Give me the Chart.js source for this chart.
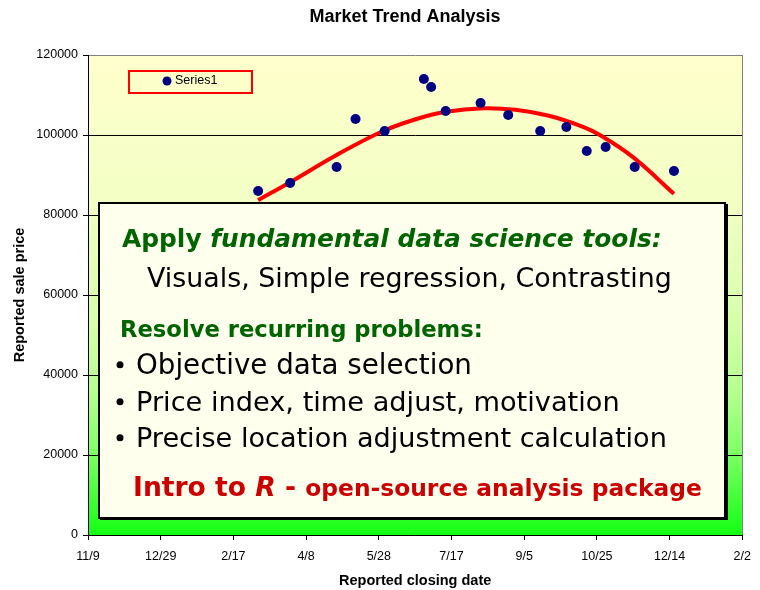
<!DOCTYPE html>
<html>
<head>
<meta charset="utf-8">
<script src="https://cdn.jsdelivr.net/npm/chart.js@4.4.1/dist/chart.umd.min.js"></script>
<style>
  body { margin: 0; background: #fff; }
  canvas { display: block; }
</style>
</head>
<body>
<canvas id="my-chart" width="760" height="590"></canvas>
<script>
// data (x = days after 11/9)
var saleDays = [117, 139, 171, 184, 204, 231, 236, 246, 270, 289, 311, 329, 343, 356, 376, 403];
var salePrices = [86000, 88000, 92000, 104000, 101000, 114000, 112000, 106000, 108000, 105000, 101000, 102000, 96000, 97000, 92000, 91000];
var trendDays = [117, 139, 171, 203, 226, 246, 272, 294, 317, 340, 352, 375, 403];
var trendPrices = [83700, 88200, 95000, 101000, 104000, 105800, 106700, 106300, 104800, 102100, 100000, 94400, 85300];
var xTickLabels = ['11/9', '12/29', '2/17', '4/8', '5/28', '7/17', '9/5', '10/25', '12/14', '2/2'];

var fam = '"Liberation Sans", Arial, sans-serif';
var noteFam = '"Comic Sans MS", "DejaVu Sans", sans-serif';
var green = '#006400';
var red = '#CC0000';

// text box lines
var noteLines = [
	{x: 122, base: 247, w: 540, parts: [{t: 'Apply ', f: 'bold', c: green}, {t: 'fundamental data science tools:', f: 'italic bold', c: green}]},
	{x: 147, base: 287, w: 525, parts: [{t: 'Visuals, Simple regression, Contrasting', f: '', c: '#000'}]},
	{x: 120, base: 337, w: 363, parts: [{t: 'Resolve recurring problems:', f: 'bold', c: green}]},
	{x: 136, base: 374, w: 336, bullet: true, parts: [{t: 'Objective data selection', f: '', c: '#000'}]},
	{x: 136, base: 411, w: 484, bullet: true, parts: [{t: 'Price index, time adjust, motivation', f: '', c: '#000'}]},
	{x: 136, base: 447, w: 531, bullet: true, parts: [{t: 'Precise location adjustment calculation', f: '', c: '#000'}]},
	{x: 133, base: 496, w: 569, parts: [{t: 'Intro to ', f: 'bold', c: red}, {t: 'R', f: 'italic bold', c: red}, {t: ' - ', f: 'bold', c: red}, {t: 'open-source analysis package', f: 'bold', c: red, s: 0.88}]}
];

var bgPlugin = {
	id: 'plotBg',
	beforeDraw: function(chart) {
		var a = chart.chartArea, c = chart.ctx;
		var g = c.createLinearGradient(0, a.top, 0, a.bottom);
		g.addColorStop(0, '#FFFFCC');
		g.addColorStop(0.3, '#F3FFC5');
		g.addColorStop(0.55, '#D8FFAC');
		g.addColorStop(0.7, '#B6FF92');
		g.addColorStop(0.82, '#84FF6A');
		g.addColorStop(0.92, '#46FF3A');
		g.addColorStop(1, '#14FF14');
		c.save();
		c.fillStyle = g;
		c.fillRect(a.left, a.top, a.right - a.left, a.bottom - a.top);
		c.restore();
	}
};

var overlayPlugin = {
	id: 'overlay',
	afterDraw: function(chart) {
		var a = chart.chartArea, c = chart.ctx;
		c.save();
		// right border of plot
		c.strokeStyle = '#808080';
		c.lineWidth = 1;
		c.beginPath();
		c.moveTo(Math.round(a.right) + 0.5, a.top);
		c.lineTo(Math.round(a.right) + 0.5, a.bottom);
		c.stroke();

		// title
		c.fillStyle = '#000';
		c.font = 'bold 18px ' + fam;
		c.textAlign = 'center';
		c.textBaseline = 'middle';
		c.fillText('Market Trend Analysis', 405, 17);

		// legend
		var ds = chart.data.datasets[0];
		c.strokeStyle = '#FF0000';
		c.lineWidth = 2;
		c.strokeRect(129, 71, 123, 22);
		c.fillStyle = ds.backgroundColor;
		c.beginPath();
		c.arc(167, 81, 4.5, 0, Math.PI * 2);
		c.fill();
		c.fillStyle = '#000';
		c.font = '12.5px ' + fam;
		c.textAlign = 'left';
		c.fillText(ds.label, 175, 81);

		// note box with shadow
		c.fillStyle = '#000';
		c.fillRect(100, 204, 628, 316);
		c.fillStyle = '#FFFFEE';
		c.fillRect(99, 203, 626, 315);
		c.strokeStyle = '#000';
		c.lineWidth = 2;
		c.strokeRect(99, 203, 626, 315);

		c.textBaseline = 'alphabetic';
		noteLines.forEach(function(line) {
			var base = 24, total = 0;
			line.parts.forEach(function(p) {
				c.font = p.f + ' ' + (base * (p.s || 1)) + 'px ' + noteFam;
				total += c.measureText(p.t).width;
			});
			var k = line.w / total;
			var x = line.x;
			line.parts.forEach(function(p) {
				c.font = p.f + ' ' + (base * k * (p.s || 1)) + 'px ' + noteFam;
				c.fillStyle = p.c;
				c.fillText(p.t, x, line.base);
				x += c.measureText(p.t).width;
			});
			if (line.bullet) {
				c.fillStyle = '#000';
				c.beginPath();
				c.arc(120, line.base - 9.3, 3.5, 0, Math.PI * 2);
				c.fill();
			}
		});
		c.restore();
	}
};

var ctx = document.getElementById('my-chart');
var myChart = new Chart(ctx, {
	type: 'scatter',
	data: {
		datasets: [{
			label: 'Series1',
			data: saleDays.map(function(d, i) { return {x: d, y: salePrices[i]}; }),
			backgroundColor: '#000080',
			borderColor: '#000080',
			pointRadius: 5,
			pointBorderWidth: 0
		}, {
			label: 'Trend',
			data: trendDays.map(function(d, i) { return {x: d, y: trendPrices[i]}; }),
			showLine: true,
			borderColor: '#FF0000',
			borderWidth: 4,
			pointRadius: 0,
			tension: 0.4,
			fill: false
		}]
	},
	options: {
		responsive: false,
		animation: false,
		layout: {padding: {top: 55, right: 17, bottom: 0, left: 0}},
		plugins: {legend: {display: false}, tooltip: {enabled: false}},
		scales: {
			x: {
				type: 'linear', min: 0, max: 450,
				ticks: {
					stepSize: 50, autoSkip: false, maxRotation: 0, padding: 9,
					color: '#000', font: {family: fam, size: 12.5},
					callback: function(v) { return xTickLabels[Math.round(v / 50)]; }
				},
				grid: {drawOnChartArea: false, color: '#000', tickLength: 5},
				border: {color: '#000', width: 1},
				title: {display: true, text: 'Reported closing date', color: '#000', font: {family: fam, size: 14.5, weight: 'bold'}, padding: {top: 0, bottom: 0}},
				afterFit: function(s) { s.height = 55; }
			},
			y: {
				min: 0, max: 120000,
				ticks: {
					stepSize: 20000, padding: 5, color: '#000', font: {family: fam, size: 12.5},
					callback: function(v) { return String(v); }
				},
				grid: {
					color: function(c) { return c.tick && c.tick.value === 120000 ? '#808080' : '#000'; },
					tickColor: '#000', tickLength: 5
				},
				border: {color: '#000', width: 1},
				title: {display: true, text: 'Reported sale price', color: '#000', font: {family: fam, size: 14.5, weight: 'bold'}, padding: {top: 11, bottom: 0}},
				afterFit: function(s) { s.width = 88; }
			}
		}
	},
	plugins: [bgPlugin, overlayPlugin]
});
</script>
</body>
</html>
